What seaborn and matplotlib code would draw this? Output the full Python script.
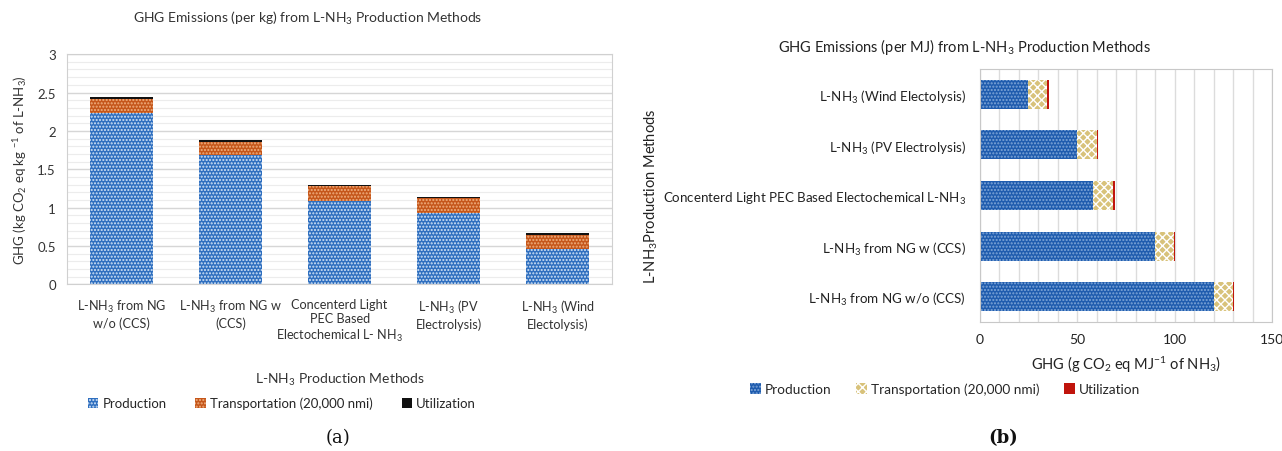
import matplotlib
matplotlib.use('Agg')
import matplotlib.pyplot as plt
from matplotlib.patches import Patch
from matplotlib.ticker import MultipleLocator, FuncFormatter
import numpy as np
import pandas as pd
import seaborn as sns

sns.set_style('white')
plt.rcParams['font.family'] = ['Lato', 'DejaVu Sans']
plt.rcParams['mathtext.default'] = 'regular'
plt.rcParams['hatch.linewidth'] = 1.0

# (a) emissions per kg of L-NH3
kg_methods = ['L-NH$_3$ from NG\nw/o (CCS)', 'L-NH$_3$ from NG w\n(CCS)',
              'Concenterd Light\nPEC Based\nElectochemical L- NH$_3$',
              'L-NH$_3$ (PV\nElectrolysis)', 'L-NH$_3$ (Wind\nElectolysis)']
kg_production = [2.23, 1.68, 1.09, 0.93, 0.46]
kg_transport = [0.19, 0.18, 0.19, 0.19, 0.19]
kg_utilization = [0.02, 0.02, 0.02, 0.02, 0.015]

# (b) emissions per MJ of NH3
mj_methods = ['L-NH$_3$ (Wind Electolysis)', 'L-NH$_3$ (PV Electrolysis)',
              'Concenterd Light PEC Based Electochemical L-NH$_3$',
              'L-NH$_3$ from NG w (CCS)', 'L-NH$_3$ from NG w/o (CCS)']
mj_production = [24.8, 49.7, 58.2, 89.9, 120.2]
mj_transport = [9.8, 10.2, 10.3, 9.8, 9.6]
mj_utilization = [0.8, 0.7, 0.7, 0.6, 0.8]

series = ['Production', 'Transportation (20,000 nmi)', 'Utilization']

fig = plt.figure(figsize=(12.82, 4.52), dpi=100)

# ---------- (a) ----------
a_colors = ['#2f6fbf', '#c5561a', '#111111']
a_hatch = ['.....', '.....', None]
a_hcol = ['#d4e4f7', '#f0b080', '#111111']

df_a = pd.DataFrame({'method': kg_methods, 'p': kg_production,
                     't': kg_transport, 'u': kg_utilization})
df_a['pt'] = df_a['p'] + df_a['t']
df_a['ptu'] = df_a['pt'] + df_a['u']

ax1 = fig.add_axes([0.0523, 0.3685, 0.4252, 0.5095])
for col, c, h, hc in zip(['ptu', 'pt', 'p'], a_colors[::-1], a_hatch[::-1], a_hcol[::-1]):
    sns.barplot(data=df_a, x='method', y=col, color=c, saturation=1, width=0.58,
                hatch=h, edgecolor=hc, linewidth=0, ax=ax1)
ax1.set_ylim(0, 3)
ax1.yaxis.set_major_locator(MultipleLocator(0.5))
ax1.yaxis.set_minor_locator(MultipleLocator(0.1))
ax1.yaxis.set_major_formatter(FuncFormatter(lambda v, p: f'{v:g}'))
ax1.grid(axis='y', which='major', color='#d6d6d6', lw=1)
ax1.grid(axis='y', which='minor', color='#ececec', lw=0.8)
ax1.set_axisbelow(True)
for s in ax1.spines.values():
    s.set_color('#d0d0d0')
ax1.tick_params(axis='y', which='both', length=0, labelsize=9.5, colors='#333333', pad=8)
ax1.tick_params(axis='x', which='both', length=0, labelsize=9.1, colors='#333333', pad=10)
ax1.set_xlabel('L-NH$_3$ Production Methods', fontsize=10, color='#333333', labelpad=20)
ax1.set_ylabel('GHG (kg CO$_2$ eq kg $^{-1}$ of L-NH$_3$)', fontsize=9.5, color='#333333', labelpad=6)
fig.text(308 / 1282, 1 - 18 / 452, 'GHG Emissions (per kg) from L-NH$_3$ Production Methods',
         ha='center', va='center', fontsize=10, color='#333333')
handles_a = [Patch(facecolor=c, hatch=h, edgecolor=hc, linewidth=0, label=s)
             for c, h, hc, s in zip(a_colors, a_hatch, a_hcol, series)]
fig.legend(handles=handles_a, loc='center', bbox_to_anchor=(282 / 1282, 1 - 404 / 452),
           ncol=3, frameon=False, fontsize=9.5, handlelength=0.8, handleheight=0.8,
           handletextpad=0.3, columnspacing=2.2)
fig.text(338 / 1282, 1 - 438 / 452, '(a)', ha='center', va='center', fontsize=13,
         family='DejaVu Serif', color='#111111')

# ---------- (b) ----------
b_colors = ['#1f5cae', '#d8c27a', '#c0140c']
b_hatch = ['.....', 'xxxx', None]
b_hcol = ['#7fa6d8', 'white', '#c0140c']

df_b = pd.DataFrame({'method': mj_methods, 'p': mj_production,
                     't': mj_transport, 'u': mj_utilization})
df_b['pt'] = df_b['p'] + df_b['t']
df_b['ptu'] = df_b['pt'] + df_b['u']

ax2 = fig.add_axes([0.7644, 0.2854, 0.2278, 0.5597])
for col, c, h, hc in zip(['ptu', 'pt', 'p'], b_colors[::-1], b_hatch[::-1], b_hcol[::-1]):
    sns.barplot(data=df_b, y='method', x=col, orient='h', color=c, saturation=1,
                width=0.57, hatch=h, edgecolor=hc, linewidth=0, ax=ax2)
ax2.set_xlim(0, 150)
ax2.xaxis.set_major_locator(MultipleLocator(50))
ax2.xaxis.set_minor_locator(MultipleLocator(10))
ax2.grid(axis='x', which='both', color='#dcdcdc', lw=1)
ax2.set_axisbelow(True)
for s in ax2.spines.values():
    s.set_color('#c8c8c8')
ax2.tick_params(axis='y', which='both', length=0, labelsize=9.6, colors='#222222', pad=10)
ax2.tick_params(axis='x', which='both', length=0, labelsize=10, colors='#222222', pad=8)
ax2.set_xlabel('GHG (g CO$_2$ eq MJ$^{-1}$ of NH$_3$)', fontsize=10.5, color='#222222', labelpad=6)
ax2.set_ylabel('L-NH$_3$Production Methods', fontsize=10.5, color='#222222', labelpad=2)
fig.text(964 / 1282, 1 - 47 / 452, 'GHG Emissions (per MJ) from L-NH$_3$ Production Methods',
         ha='center', va='center', fontsize=10.5, color='#222222')
handles_b = [Patch(facecolor=c, hatch=h, edgecolor=hc, linewidth=0, label=s)
             for c, h, hc, s in zip(b_colors, b_hatch, b_hcol, series)]
fig.legend(handles=handles_b, loc='center', bbox_to_anchor=(945 / 1282, 1 - 390 / 452),
           ncol=3, frameon=False, fontsize=9.8, handlelength=0.8, handleheight=0.8,
           handletextpad=0.3, columnspacing=1.8)
fig.text(1003 / 1282, 1 - 438 / 452, '(b)', ha='center', va='center', fontsize=13,
         family='DejaVu Serif', weight='bold', color='#111111')

fig.savefig('out.png', dpi=100)
